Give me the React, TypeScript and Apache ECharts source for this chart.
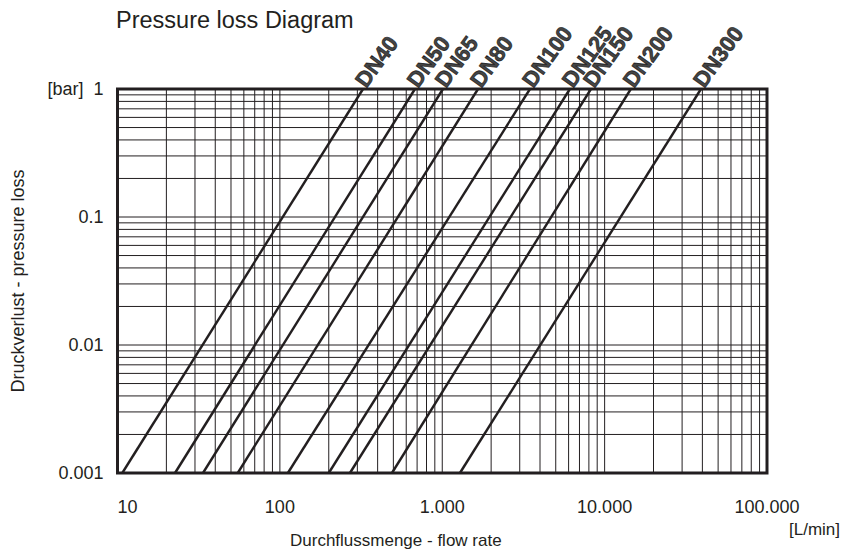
import React, { useEffect, useRef } from "react";
import * as echarts from "echarts";

// ---- data ----
const dnNames = ["DN40", "DN50", "DN65", "DN80", "DN100", "DN125", "DN150", "DN200", "DN300"];
// flow rate [L/min] where each line crosses 0.001 bar and 1 bar
const flowAtLowLoss = [10.7, 22.6, 33.6, 55, 112, 200, 270, 490, 1285];
const flowAtHighLoss = [325, 679, 1010, 1660, 3470, 6110, 8240, 14500, 39200];
const lossLow = 0.001;
const lossHigh = 1;

const xTickValues = [10, 100, 1000, 10000, 100000];
const xTickLabels = ["10", "100", "1.000", "10.000", "100.000"];
const yTickValues = [0.001, 0.01, 0.1, 1];
const yTickLabels = ["0.001", "0.01", "0.1", "[bar]  1"];

const gridMultipliers = [1, 2, 3, 4, 5, 6, 7, 8, 9];
const xDecades = [10, 100, 1000, 10000];
const yDecades = [0.001, 0.01, 0.1];

const INK = "#231f20";
const FONT = "'Liberation Sans', Arial, Helvetica, sans-serif";
const LABEL_FONT = "'Liberation Sans', Arial, sans-serif";

function lookupLabel(v: number, values: number[], labels: string[]) {
  for (let i = 0; i < values.length; i++) {
    if (Math.abs(Math.log10(v) - Math.log10(values[i])) < 1e-6) return labels[i];
  }
  return "";
}

export default function App() {
  const ref = useRef<HTMLDivElement>(null);
  useEffect(() => {
    if (!ref.current) return;
    const chart = echarts.init(ref.current, undefined, { renderer: "svg" });

    const xGrid: number[][] = [];
    xDecades.forEach((d) => gridMultipliers.forEach((m) => xGrid.push([d * m, lossHigh])));
    xGrid.push([xTickValues[xTickValues.length - 1], lossHigh]);
    const yGrid: number[][] = [];
    yDecades.forEach((d) => gridMultipliers.forEach((m) => yGrid.push([xTickValues[0], d * m])));
    yGrid.push([xTickValues[0], lossHigh]);

    const xMin = xTickValues[0];
    const xMax = xTickValues[xTickValues.length - 1];
    const yMin = yTickValues[0];
    const yMax = yTickValues[yTickValues.length - 1];

    const lineSeries = dnNames.map((name, i) => ({
      type: "line",
      name,
      data: [
        [flowAtLowLoss[i], lossLow],
        [flowAtHighLoss[i], lossHigh],
      ],
      showSymbol: false,
      symbol: "none",
      lineStyle: { color: INK, width: 2.4 },
      z: 5,
      silent: true,
    }));

    const option: any = {
      animation: false,
      backgroundColor: "#ffffff",
      title: {
        text: "Pressure loss Diagram",
        left: 111,
        top: 3,
        textStyle: { fontFamily: FONT, fontSize: 23.5, fontWeight: "normal", color: INK },
      },
      grid: {
        left: 117.5,
        right: 85,
        top: 89,
        bottom: 84,
        show: true,
        borderColor: INK,
        borderWidth: 3,
        backgroundColor: "transparent",
      },
      xAxis: {
        type: "log",
        logBase: 10,
        min: xMin,
        max: xMax,
        axisLine: { show: false },
        axisTick: { show: false },
        splitLine: { show: false },
        axisLabel: {
          margin: 25,
          fontFamily: FONT,
          fontSize: 18,
          color: INK,
          showMinLabel: true,
          showMaxLabel: true,
          alignMinLabel: "left",
          formatter: (v: number) => lookupLabel(v, xTickValues, xTickLabels),
        },
      },
      yAxis: {
        type: "log",
        logBase: 10,
        min: yMin,
        max: yMax,
        axisLine: { show: false },
        axisTick: { show: false },
        splitLine: { show: false },
        axisLabel: {
          margin: 14,
          fontFamily: FONT,
          fontSize: 18,
          color: INK,
          showMinLabel: true,
          showMaxLabel: true,
          formatter: (v: number) => lookupLabel(v, yTickValues, yTickLabels),
        },
      },
      graphic: [
        {
          type: "text",
          left: 290,
          top: 532,
          style: { text: "Durchflussmenge - flow rate", fontFamily: FONT, fontSize: 17, fill: INK },
        },
        {
          type: "text",
          right: 12,
          top: 521,
          style: { text: "[L/min]", fontFamily: FONT, fontSize: 17, fill: INK },
        },
        {
          type: "text",
          x: 9,
          y: 281,
          rotation: Math.PI / 2,
          style: {
            text: "Druckverlust - pressure loss",
            fontFamily: FONT,
            fontSize: 18,
            fill: INK,
            align: "center",
            verticalAlign: "top",
          },
        },
      ],
      series: [
        {
          type: "custom",
          silent: true,
          z: 1,
          data: xGrid,
          encode: { x: 0, y: 1 },
          renderItem: (params: any, api: any) => {
            const v = api.value(0);
            const p1 = api.coord([v, yMin]);
            const p2 = api.coord([v, yMax]);
            return {
              type: "line",
              shape: { x1: p1[0], y1: p1[1], x2: p2[0], y2: p2[1] },
              style: { stroke: INK, lineWidth: 1 },
            };
          },
        },
        {
          type: "custom",
          silent: true,
          z: 1,
          data: yGrid,
          encode: { x: 0, y: 1 },
          renderItem: (params: any, api: any) => {
            const v = api.value(1);
            const p1 = api.coord([xMin, v]);
            const p2 = api.coord([xMax, v]);
            return {
              type: "line",
              shape: { x1: p1[0], y1: p1[1], x2: p2[0], y2: p2[1] },
              style: { stroke: INK, lineWidth: 1 },
            };
          },
        },
        ...lineSeries,
        {
          type: "scatter",
          silent: true,
          symbolSize: 0,
          z: 6,
          data: dnNames.map((n, i) => ({ name: n, value: [flowAtHighLoss[i], lossHigh] })),
          label: {
            show: true,
            formatter: "{b}",
            position: [6, 2],
            align: "left",
            verticalAlign: "bottom",
            rotate: 54,
            fontFamily: LABEL_FONT,
            fontWeight: "bold",
            fontSize: 22,
            color: "#111",
            textBorderColor: "#111",
            textBorderWidth: 0.8,
          },
        },
      ],
    };
    chart.setOption(option);
    return () => chart.dispose();
  }, []);
  return (
    <div
      ref={ref}
      style={{ position: "fixed", left: 0, top: 0, width: 852, height: 557, background: "#fff" }}
    />
  );
}
